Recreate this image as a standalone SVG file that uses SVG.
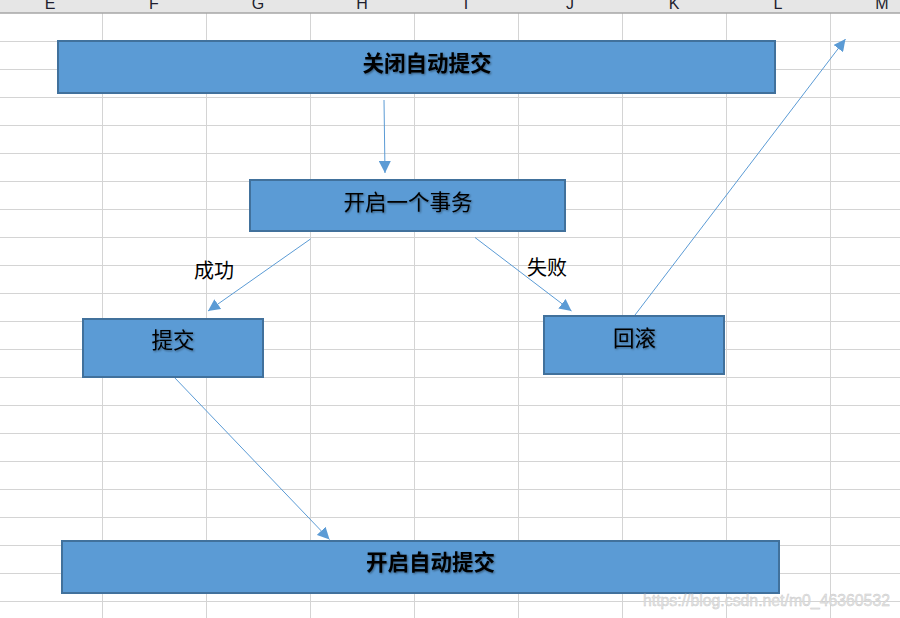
<svg xmlns="http://www.w3.org/2000/svg" width="900" height="618" viewBox="0 0 900 618">
  <style>
    .grid line { stroke: #d4d4d4; stroke-width: 1; }
    .hdr { font-family: "Liberation Sans", Arial, sans-serif; font-size: 16px; fill: #1e1e2e; text-anchor: middle; }
    .box { fill: #5b9bd5; stroke: #41719c; stroke-width: 2; }
    .t { font-family: "Noto Sans CJK SC", "Noto Sans", sans-serif; font-size: 21.5px; fill: #000; text-anchor: middle; }
    .tb { font-weight: bold; }
    .lbl { font-family: "Noto Sans CJK SC", "Noto Sans", sans-serif; font-size: 20px; fill: #000; text-anchor: middle; }
    .conn line { stroke: #5b9bd5; stroke-width: 1; marker-end: url(#ah); }
    .wm { font-family: "Liberation Sans", Arial, sans-serif; font-size: 16px; fill: #e4e4e4; stroke: #c8c8c8; stroke-width: 0.4; }
  </style>
  <defs>
    <marker id="ah" markerUnits="userSpaceOnUse" markerWidth="14" markerHeight="12" refX="12" refY="6" orient="auto">
      <path d="M0,0 L12,6 L0,12 Z" fill="#5b9bd5"/>
    </marker>
    <filter id="sh" x="-10%" y="-30%" width="120%" height="160%">
      <feDropShadow dx="1" dy="1" stdDeviation="0.8" flood-color="#000" flood-opacity="0.45"/>
    </filter>
  </defs>
  <rect width="900" height="618" fill="#ffffff"/>
  <g class="grid">
    <line x1="0" y1="41.5" x2="900" y2="41.5"/>
    <line x1="0" y1="69.5" x2="900" y2="69.5"/>
    <line x1="0" y1="97.5" x2="900" y2="97.5"/>
    <line x1="0" y1="125.5" x2="900" y2="125.5"/>
    <line x1="0" y1="153.5" x2="900" y2="153.5"/>
    <line x1="0" y1="181.5" x2="900" y2="181.5"/>
    <line x1="0" y1="209.5" x2="900" y2="209.5"/>
    <line x1="0" y1="237.5" x2="900" y2="237.5"/>
    <line x1="0" y1="265.5" x2="900" y2="265.5"/>
    <line x1="0" y1="293.5" x2="900" y2="293.5"/>
    <line x1="0" y1="321.5" x2="900" y2="321.5"/>
    <line x1="0" y1="349.5" x2="900" y2="349.5"/>
    <line x1="0" y1="377.5" x2="900" y2="377.5"/>
    <line x1="0" y1="405.5" x2="900" y2="405.5"/>
    <line x1="0" y1="433.5" x2="900" y2="433.5"/>
    <line x1="0" y1="461.5" x2="900" y2="461.5"/>
    <line x1="0" y1="489.5" x2="900" y2="489.5"/>
    <line x1="0" y1="517.5" x2="900" y2="517.5"/>
    <line x1="0" y1="545.5" x2="900" y2="545.5"/>
    <line x1="0" y1="573.5" x2="900" y2="573.5"/>
    <line x1="0" y1="601.5" x2="900" y2="601.5"/>
    <line x1="102.5" y1="13" x2="102.5" y2="618"/>
    <line x1="206.5" y1="13" x2="206.5" y2="618"/>
    <line x1="310.5" y1="13" x2="310.5" y2="618"/>
    <line x1="414.5" y1="13" x2="414.5" y2="618"/>
    <line x1="518.5" y1="13" x2="518.5" y2="618"/>
    <line x1="622.5" y1="13" x2="622.5" y2="618"/>
    <line x1="726.5" y1="13" x2="726.5" y2="618"/>
    <line x1="830.5" y1="13" x2="830.5" y2="618"/>
  </g>
  <g id="header">
    <rect x="0" y="0" width="900" height="13" fill="#e6e6e6"/>
    <line x1="0" y1="13" x2="900" y2="13" stroke="#a6a6a6" stroke-width="1.5"/>
    <text class="hdr" x="50" y="9">E</text>
    <text class="hdr" x="154" y="9">F</text>
    <text class="hdr" x="258" y="9">G</text>
    <text class="hdr" x="362" y="9">H</text>
    <text class="hdr" x="466" y="9">I</text>
    <text class="hdr" x="570" y="9">J</text>
    <text class="hdr" x="674" y="9">K</text>
    <text class="hdr" x="778" y="9">L</text>
    <text class="hdr" x="882" y="9">M</text>
  </g>
  <g class="conn" id="connectors">
    <line x1="384" y1="100" x2="385" y2="173"/>
    <line x1="310.5" y1="239" x2="208" y2="311"/>
    <line x1="475" y1="237.5" x2="571.5" y2="311"/>
    <line x1="635" y1="315" x2="845.5" y2="39"/>
    <line x1="174" y1="377" x2="329.5" y2="539.5"/>
  </g>
  <g id="n-close">
    <rect class="box" x="58" y="41" width="717" height="52"/>
    <text class="t tb" x="427" y="70.5" filter="url(#sh)">关闭自动提交</text>
  </g>
  <g id="n-begin">
    <rect class="box" x="250" y="180" width="315" height="51"/>
    <text class="t" x="408" y="210" filter="url(#sh)">开启一个事务</text>
  </g>
  <g id="n-commit">
    <rect class="box" x="83" y="319" width="180" height="58"/>
    <text class="t" x="173" y="348" filter="url(#sh)">提交</text>
  </g>
  <g id="n-rollback">
    <rect class="box" x="544" y="316" width="180" height="58"/>
    <text class="t" x="634.5" y="346" filter="url(#sh)">回滚</text>
  </g>
  <g id="n-open">
    <rect class="box" x="62" y="541" width="717" height="52"/>
    <text class="t tb" x="430.5" y="570" filter="url(#sh)">开启自动提交</text>
  </g>
  <g id="labels">
    <text class="lbl" x="214" y="277.5">成功</text>
    <text class="lbl" x="547" y="274.5">失败</text>
  </g>
  <text class="wm" x="643" y="606" textLength="247" lengthAdjust="spacingAndGlyphs">https://blog.csdn.net/m0_46360532</text>
</svg>
